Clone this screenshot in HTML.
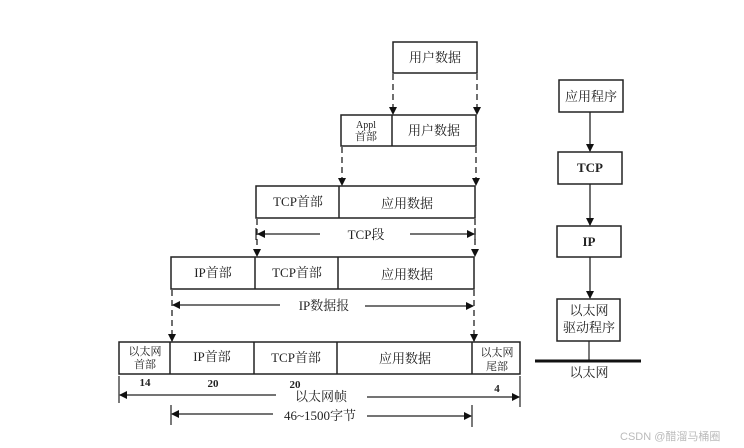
<!DOCTYPE html>
<html><head><meta charset="utf-8"><style>
html,body{margin:0;padding:0;background:#fff;width:744px;height:448px;overflow:hidden}
svg text{font-family:"Liberation Serif","Noto Serif CJK SC","Noto Sans CJK SC",serif;fill:#222}
</style></head><body>
<svg width="744" height="448" viewBox="0 0 744 448" xmlns="http://www.w3.org/2000/svg">
<defs>
<marker id="a" markerWidth="8" markerHeight="10" refX="7" refY="5" orient="auto" markerUnits="userSpaceOnUse">
<path d="M0,1 L8,5 L0,9 Z" fill="#111"/></marker>
</defs>
<g stroke="#222" stroke-width="1.5" fill="none">
<rect x="393" y="42" width="84" height="31"/>
<rect x="341" y="115" width="135" height="31"/>
<line x1="392" y1="115" x2="392" y2="146"/>
<rect x="256" y="186" width="219" height="32"/>
<line x1="339" y1="186" x2="339" y2="218"/>
<rect x="171" y="257" width="303" height="32"/>
<line x1="255" y1="257" x2="255" y2="289"/>
<line x1="338" y1="257" x2="338" y2="289"/>
<rect x="119" y="342" width="401" height="32"/>
<line x1="170" y1="342" x2="170" y2="374"/>
<line x1="254" y1="342" x2="254" y2="374"/>
<line x1="337" y1="342" x2="337" y2="374"/>
<line x1="472" y1="342" x2="472" y2="374"/>
<rect x="559" y="80" width="64" height="32"/>
<rect x="558" y="152" width="64" height="32"/>
<rect x="557" y="226" width="64" height="31"/>
<rect x="557" y="299" width="63" height="42"/>
</g>
<g stroke="#222" stroke-width="1.3" stroke-dasharray="6,4" marker-end="url(#a)">
<line x1="393" y1="74" x2="393" y2="114"/>
<line x1="477" y1="74" x2="477" y2="114"/>
<line x1="342" y1="147" x2="342" y2="185"/>
<line x1="476" y1="147" x2="476" y2="185"/>
<line x1="257" y1="219" x2="257" y2="256"/>
<line x1="475" y1="219" x2="475" y2="256"/>
<line x1="172" y1="290" x2="172" y2="341"/>
<line x1="474" y1="290" x2="474" y2="341"/>
</g>
<g stroke="#222" stroke-width="1.3" marker-end="url(#a)">
<line x1="590" y1="112" x2="590" y2="151"/>
<line x1="590" y1="184" x2="590" y2="225"/>
<line x1="590" y1="257" x2="590" y2="298"/>
<line x1="320" y1="234" x2="258" y2="234"/>
<line x1="410" y1="234" x2="474" y2="234"/>
<line x1="280" y1="305" x2="173" y2="305"/>
<line x1="365" y1="306" x2="473" y2="306"/>
<line x1="276" y1="395" x2="120" y2="395"/>
<line x1="367" y1="397" x2="519" y2="397"/>
<line x1="273" y1="414" x2="172" y2="414"/>
<line x1="367" y1="416" x2="471" y2="416"/>
</g>
<g stroke="#222" stroke-width="1.2">
<line x1="256" y1="228" x2="256" y2="240"/>
<line x1="475" y1="228" x2="475" y2="240"/>
<line x1="119" y1="376" x2="119" y2="403"/>
<line x1="520" y1="376" x2="520" y2="407"/>
<line x1="171" y1="405" x2="171" y2="425"/>
<line x1="472" y1="405" x2="472" y2="427"/>
<line x1="589" y1="341" x2="589" y2="361"/>
</g>
<line x1="535" y1="361" x2="641" y2="361" stroke="#111" stroke-width="3"/>
<g font-size="13" text-anchor="middle">
<text x="435" y="62">用户数据</text>
<text x="434" y="135">用户数据</text>
<text x="366" y="128" font-size="10">Appl</text>
<text x="366" y="140" font-size="11">首部</text>
<text x="298" y="206">TCP首部</text>
<text x="407" y="208">应用数据</text>
<text x="213" y="277">IP首部</text>
<text x="297" y="277">TCP首部</text>
<text x="407" y="279">应用数据</text>
<text x="145" y="355" font-size="11">以太网</text>
<text x="145" y="368" font-size="11">首部</text>
<text x="212" y="361">IP首部</text>
<text x="296" y="362">TCP首部</text>
<text x="405" y="363">应用数据</text>
<text x="497" y="356" font-size="11">以太网</text>
<text x="497" y="370" font-size="11">尾部</text>
<text x="145" y="386" font-size="11" font-weight="bold">14</text>
<text x="213" y="387" font-size="11" font-weight="bold">20</text>
<text x="295" y="388" font-size="11" font-weight="bold">20</text>
<text x="497" y="392" font-size="11" font-weight="bold">4</text>
<text x="366" y="239">TCP段</text>
<text x="324" y="310">IP数据报</text>
<text x="321" y="401">以太网帧</text>
<text x="320" y="420">46~1500字节</text>
<text x="591" y="101">应用程序</text>
<text x="590" y="172" font-weight="bold">TCP</text>
<text x="589" y="246" font-weight="bold">IP</text>
<text x="589" y="315">以太网</text>
<text x="589" y="332">驱动程序</text>
<text x="589" y="377">以太网</text>
</g>
<text x="620" y="440" font-size="11" style="font-family:'Liberation Sans','Noto Sans CJK SC',sans-serif;fill:#bbb">CSDN @醋溜马桶圈</text>
</svg>
</body></html>
